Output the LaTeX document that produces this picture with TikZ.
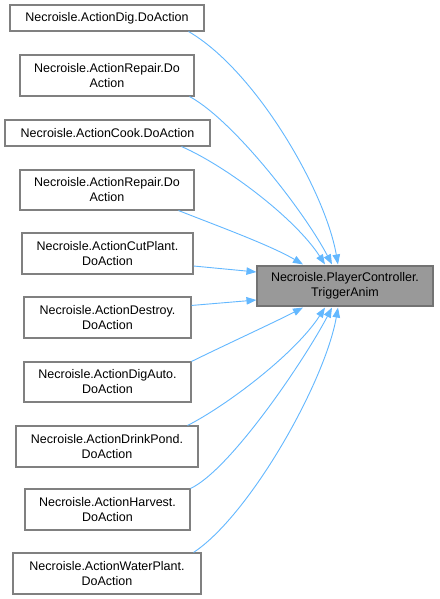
\documentclass[tikz,border=0pt]{standalone}
\usepackage{fontspec}
\setmainfont{Liberation Sans}
\usetikzlibrary{arrows.meta,calc}
\definecolor{edgeblue}{RGB}{99,184,255}
\definecolor{boxgray}{RGB}{128,128,128}
\definecolor{mainfill}{RGB}{153,153,153}
\begin{document}
\begin{tikzpicture}[x=1pt,y=-1pt,
  fn/.style={draw=boxgray,line width=1.1pt,fill=white,rectangle,inner sep=0pt,align=center,
    font=\fontsize{12.5}{15}\selectfont},
  mainnode/.style={fn,fill=mainfill,draw=gray!90!black},
  edge/.style={draw=edgeblue,line width=0.9pt,-{Triangle[length=10pt,width=7.5pt]}}]
\useasboundingbox (0,0) rectangle (439,599);
\fill[white] (0,0) rectangle (439,599);
\node[fn,minimum width=194,minimum height=26] (n1) at (107,18) {Necroisle.ActionDig.DoAction};
\node[fn,minimum width=174,minimum height=41] (n2) at (107,75.5) {Necroisle.ActionRepair.Do\\Action};
\node[fn,minimum width=205,minimum height=26] (n3) at (107.5,133) {Necroisle.ActionCook.DoAction};
\node[fn,minimum width=174,minimum height=40] (n4) at (107,190) {Necroisle.ActionRepair.Do\\Action};
\node[fn,minimum width=171,minimum height=41] (n5) at (107.5,253.5) {Necroisle.ActionCutPlant.\\DoAction};
\node[fn,minimum width=167,minimum height=41] (n6) at (107.5,317.5) {Necroisle.ActionDestroy.\\DoAction};
\node[fn,minimum width=167,minimum height=40] (n7) at (107.5,382) {Necroisle.ActionDigAuto.\\DoAction};
\node[fn,minimum width=182,minimum height=41] (n8) at (107,446.5) {Necroisle.ActionDrinkPond.\\DoAction};
\node[fn,minimum width=165,minimum height=41] (n9) at (107.5,509.5) {Necroisle.ActionHarvest.\\DoAction};
\node[fn,minimum width=188,minimum height=41] (n10) at (107,573.5) {Necroisle.ActionWaterPlant.\\DoAction};
\node[mainnode,minimum width=176,minimum height=40] (t) at (345,286) {Necroisle.PlayerController.\\TriggerAnim};
% edges
\draw[edge] ($(n1.south east)+(-16,0)$) .. controls (255,70) and (325,190) .. ($(t.north)+(-7,-1)$);
\draw[edge] ($(n2.south east)+(-5,0)$) .. controls (233,120) and (304,211) .. ($(t.north)+(-13,-1)$);
\draw[edge] ($(n3.south east)+(-29,0)$) .. controls (226,166) and (295,218) .. ($(t.north)+(-20,-1)$);
\draw[edge] ($(n4.south east)+(-16,0)$) .. controls (215,225) and (270,245) .. ($(t.north)+(-42,-1)$);
\draw[edge] ($(n5.east)+(0,12.5)$) -- ($(t.west)+(0,-14)$);
\draw[edge] ($(n6.north east)+(0,9)$) -- ($(t.west)+(0,14)$);
\draw[edge] ($(n7.north east)+(0,0)$) .. controls (225,345) and (275,322) .. ($(t.south)+(-42,1)$);
\draw[edge] ($(n8.north east)+(-11,0)$) .. controls (226,406) and (295,354) .. ($(t.south)+(-20,1)$);
\draw[edge] ($(n9.north east)+(0,0)$) .. controls (230,470) and (304,361) .. ($(t.south)+(-13,1)$);
\draw[edge] ($(n10.north east)+(-8,0)$) .. controls (250,515) and (325,382) .. ($(t.south)+(-7,1)$);
\end{tikzpicture}
\end{document}
